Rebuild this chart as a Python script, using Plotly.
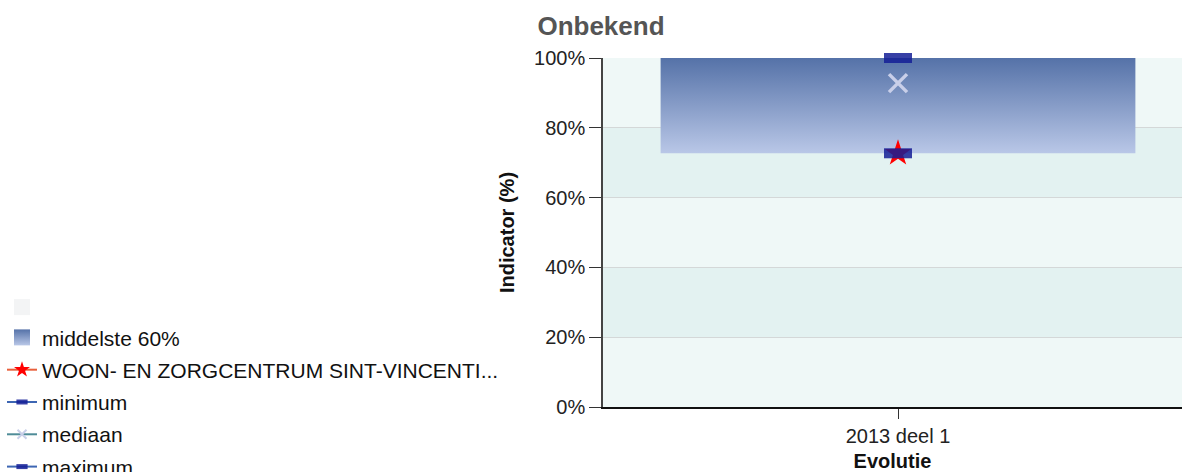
import plotly.graph_objects as go

# Data
categories = ["2013 deel 1"]
p20 = [72.7]
p80 = [100.0]
facility = [72.7]
minimum = [72.7]
median = [92.8]
maximum = [100.0]
facility_name = "WOON- EN ZORGCENTRUM SINT-VINCENTI..."
y_ticks = [0, 20, 40, 60, 80, 100]

FONT = "Arial, Liberation Sans, sans-serif"
xpos = list(range(len(categories)))
half = 0.41

RECT_COLOR = "rgba(20,30,150,0.85)"
BLUE_LINE = "#3d66b3"

fig = go.Figure()

# middle 60% box with vertical gradient
for i, (lo, hi) in enumerate(zip(p20, p80)):
    fig.add_trace(
        go.Scatter(
            x=[xpos[i] - half, xpos[i] + half, xpos[i] + half, xpos[i] - half, xpos[i] - half],
            y=[lo, lo, hi, hi, lo],
            fill="toself",
            mode="lines",
            line=dict(width=0, color="#8a9ccb"),
            fillgradient=dict(
                type="vertical",
                colorscale=[[0, "#b9c7e7"], [1, "#5572a8"]],
            ),
            showlegend=False,
            hoverinfo="skip",
        )
    )

fig.add_trace(
    go.Scatter(
        x=xpos, y=facility, mode="markers", showlegend=False,
        marker=dict(symbol="star", size=20, color="#ff0000"),
        cliponaxis=False, name=facility_name,
    )
)

rect_marker = dict(symbol="line-ew", size=20, line=dict(width=10, color=RECT_COLOR))

fig.add_trace(go.Scatter(x=xpos, y=minimum, name="minimum", mode="markers",
                         marker=rect_marker, cliponaxis=False, showlegend=False))
fig.add_trace(go.Scatter(x=xpos, y=median, name="mediaan", mode="markers",
                         marker=dict(symbol="x-thin", size=18, line=dict(width=3.5, color="#c9cfe9")),
                         cliponaxis=False, showlegend=False))
fig.add_trace(go.Scatter(x=xpos, y=maximum, name="maximum", mode="markers",
                         marker=rect_marker, cliponaxis=False, showlegend=False))

# legend entries (first two share a group, so no gap between them)
legend_items = [
    ("g0", dict(name=" ", mode="markers",
                marker=dict(symbol="square", size=22, color="#f3f4f5"))),
    ("g0", dict(name="middelste 60%", mode="markers",
                marker=dict(symbol="square", size=22, color="#5572a8",
                            gradient=dict(type="vertical", color="#b9c7e7")))),
    ("g1", dict(name=facility_name, mode="lines+markers",
                line=dict(color="#e8603c", width=2),
                marker=dict(symbol="star", size=12, color="#ff0000"))),
    ("g2", dict(name="minimum", mode="lines+markers", line=dict(color=BLUE_LINE, width=2),
                marker=dict(symbol="line-ew", size=8, line=dict(width=5, color=RECT_COLOR)))),
    ("g3", dict(name="mediaan", mode="lines+markers", line=dict(color="#4f8c98", width=2),
                marker=dict(symbol="x-thin", size=9, line=dict(width=2, color="#c9cfe9")))),
    ("g4", dict(name="maximum", mode="lines+markers", line=dict(color=BLUE_LINE, width=2),
                marker=dict(symbol="line-ew", size=8, line=dict(width=5, color=RECT_COLOR)))),
]
for group, item in legend_items:
    fig.add_trace(go.Scatter(x=[None], y=[None], legendgroup=group, **item))

# alternating background bands
band_colors = ["#eff8f7", "#e3f2f1"]
for k in range(len(y_ticks) - 1):
    fig.add_shape(
        type="rect", xref="paper", yref="y", x0=0, x1=1,
        y0=y_ticks[k], y1=y_ticks[k + 1],
        fillcolor=band_colors[k % 2], line_width=0, layer="below",
    )

fig.update_layout(
    width=1182,
    height=472,
    margin=dict(l=603, r=0, t=58, b=65, autoexpand=False),
    paper_bgcolor="white",
    plot_bgcolor="#eff8f7",
    font=dict(family=FONT, size=20, color="#222222"),
    title=dict(
        text="<b>Onbekend</b>", x=601 / 1182, xanchor="center",
        y=0.945, yanchor="middle",
        font=dict(family=FONT, size=26, color="#555555"),
    ),
    showlegend=True,
    legend=dict(
        x=-601 / 579, y=0.344, xanchor="left", yanchor="top",
        font=dict(family=FONT, size=21, color="#111111"),
        bgcolor="rgba(0,0,0,0)", traceorder="grouped", tracegroupgap=2, itemwidth=30,
    ),
)

fig.update_xaxes(
    range=[-0.5095, 0.4905],
    tickvals=xpos, ticktext=categories,
    ticks="outside", ticklen=10, tickcolor="#333333",
    showgrid=False, zeroline=False,
    showline=True, linecolor="#111111", linewidth=2,
    title=dict(text="<b>Evolutie</b>", font=dict(family=FONT, size=20, color="#111111"), standoff=10),
)
fig.update_yaxes(
    range=[0, 100], tickvals=y_ticks, ticktext=[f"{v}%" for v in y_ticks],
    ticks="outside", ticklen=12, tickcolor="#333333",
    showgrid=True, gridcolor="#d4d8d8", gridwidth=1,
    zeroline=False, showline=True, linecolor="#444444", linewidth=1.5,
    title=dict(text="<b>Indicator (%)</b>", font=dict(family=FONT, size=20, color="#111111"), standoff=14),
)

fig.write_html(
    "out.html",
    config={"displayModeBar": False},
    post_script="document.body.style.margin='0';",
)
